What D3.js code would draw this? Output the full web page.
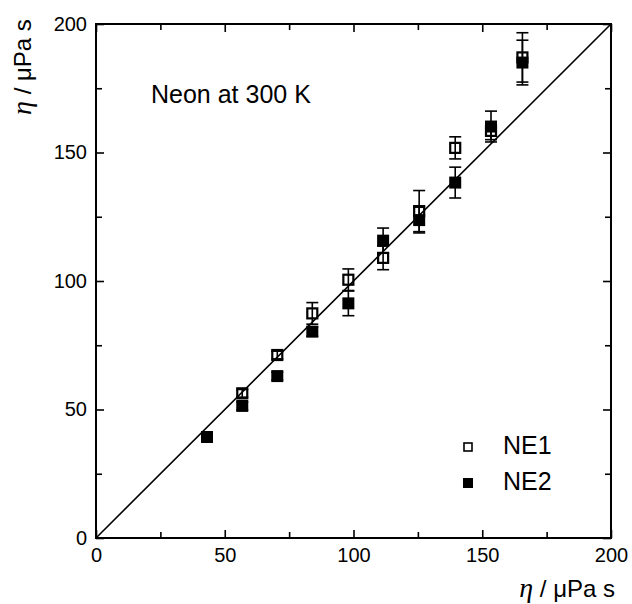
<!DOCTYPE html>
<html>
<head>
<meta charset="utf-8">
<script src="https://cdn.jsdelivr.net/npm/d3@7"></script>
<style>
  body { margin: 0; background: #fff; }
  text { font-family: "Liberation Sans", Arial, sans-serif; fill: #000; }
</style>
</head>
<body>
<div id="chart"></div>
<script>
// data (viscosity in µPa s)
const xNE1 = [56.8, 70.4, 84.0, 98.0, 111.5, 125.5, 139.5, 153.4, 165.6];
const yNE1 = [56.3, 71.2, 87.4, 100.5, 109.0, 127.2, 151.8, 158.4, 187.0];
const eNE1 = [1.5, 1.5, 4.2, 4.2, 4.6, 8.0, 4.3, 3.4, 9.6];

const xNE2 = [43.1, 56.8, 70.4, 84.0, 98.0, 111.5, 125.5, 139.5, 153.4, 165.6];
const yNE2 = [39.3, 51.4, 63.0, 80.3, 91.3, 115.7, 123.7, 138.3, 160.1, 185.0];
const eNE2 = [1.0, 1.5, 1.5, 1.8, 4.8, 4.9, 5.0, 6.0, 6.0, 8.7];

const majorTicks = [0, 50, 100, 150, 200];
const minorTicks = [25, 75, 125, 175];
const domain = [0, 200];

// graph dimensions
const width = 632;
const height = 604;
const pLeft = 96, pTop = 24, pRight = 611, pBottom = 538;

const svg = d3.select("#chart")
    .append("svg")
    .attr("width", width)
    .attr("height", height);

const xScale = d3.scaleLinear().domain(domain).range([pLeft, pRight]);
const yScale = d3.scaleLinear().domain(domain).range([pBottom, pTop]);

// inward ticks on all four sides
function tickAxis(axisFn, scale, size, labels, pad) {
    return axisFn(scale)
        .tickValues(size > 7 ? majorTicks : minorTicks)
        .tickSizeInner(-size)
        .tickSizeOuter(0)
        .tickPadding(pad)
        .tickFormat(labels ? d3.format("d") : "");
}

const axes = [
    { fn: d3.axisBottom, s: xScale, tr: `translate(0,${pBottom})`, lab: true, pad: 10 },
    { fn: d3.axisTop, s: xScale, tr: `translate(0,${pTop})`, lab: false, pad: 10 },
    { fn: d3.axisLeft, s: yScale, tr: `translate(${pLeft},0)`, lab: true, pad: 9 },
    { fn: d3.axisRight, s: yScale, tr: `translate(${pRight},0)`, lab: false, pad: 9 }
];
axes.forEach(a => {
    [8, 6].forEach(size => {
        const g = svg.append("g")
            .attr("transform", a.tr)
            .call(tickAxis(a.fn, a.s, size, a.lab && size > 7, a.pad));
        g.select(".domain").remove();
        g.selectAll("line").attr("stroke", "#000").attr("stroke-width", 1.6);
        g.selectAll("text").attr("font-size", "20px")
            .attr("font-family", "Liberation Sans, Arial, sans-serif");
    });
});

// frame
svg.append("rect")
    .attr("x", pLeft).attr("y", pTop)
    .attr("width", pRight - pLeft).attr("height", pBottom - pTop)
    .attr("fill", "none").attr("stroke", "#000").attr("stroke-width", 2);

// diagonal line
svg.append("line")
    .attr("x1", xScale(0)).attr("y1", yScale(0))
    .attr("x2", xScale(200)).attr("y2", yScale(200))
    .attr("stroke", "#000").attr("stroke-width", 1.6);

// error bars
function errorBars(xs, ys, es) {
    const g = svg.append("g").attr("stroke", "#000").attr("stroke-width", 1.6);
    xs.forEach((x, i) => {
        const cx = xScale(x);
        const y1 = yScale(ys[i] - es[i]), y2 = yScale(ys[i] + es[i]);
        g.append("line").attr("x1", cx).attr("x2", cx).attr("y1", y1).attr("y2", y2);
        g.append("line").attr("x1", cx - 6).attr("x2", cx + 6).attr("y1", y1).attr("y2", y1);
        g.append("line").attr("x1", cx - 6).attr("x2", cx + 6).attr("y1", y2).attr("y2", y2);
    });
}
errorBars(xNE1, yNE1, eNE1);
errorBars(xNE2, yNE2, eNE2);

const sq = 12;
// open squares (NE1)
svg.append("g").selectAll("rect")
    .data(xNE1.map((x, i) => [x, yNE1[i]]))
    .enter().append("rect")
    .attr("x", d => xScale(d[0]) - sq / 2 + 1)
    .attr("y", d => yScale(d[1]) - sq / 2 + 1)
    .attr("width", sq - 2).attr("height", sq - 2)
    .attr("fill", "none").attr("stroke", "#000").attr("stroke-width", 2.2);

// filled squares (NE2)
svg.append("g").selectAll("rect")
    .data(xNE2.map((x, i) => [x, yNE2[i]]))
    .enter().append("rect")
    .attr("x", d => xScale(d[0]) - sq / 2)
    .attr("y", d => yScale(d[1]) - sq / 2)
    .attr("width", sq).attr("height", sq)
    .attr("fill", "#000");

// annotation
svg.append("text")
    .attr("x", 151).attr("y", 103)
    .attr("font-size", "25px")
    .text("Neon at 300 K");

// legend
svg.append("rect").attr("x", 464).attr("y", 443).attr("width", 8).attr("height", 8)
    .attr("fill", "none").attr("stroke", "#000").attr("stroke-width", 1.6);
svg.append("rect").attr("x", 463).attr("y", 478).attr("width", 10).attr("height", 10)
    .attr("fill", "#000");
svg.append("text").attr("x", 503).attr("y", 454).attr("font-size", "25px").text("NE1");
svg.append("text").attr("x", 503).attr("y", 490).attr("font-size", "25px").text("NE2");

// axis titles
function axisTitle(t) {
    t.append("tspan")
        .attr("font-family", "Liberation Serif, Times New Roman, serif")
        .attr("font-style", "italic")
        .attr("font-size", "28px")
        .text("η");
    t.append("tspan").text(" / μPa s");
}
svg.append("text")
    .attr("x", 615).attr("y", 597)
    .attr("text-anchor", "end")
    .attr("font-size", "24px")
    .call(axisTitle);

svg.append("text")
    .attr("transform", "translate(31,67) rotate(-90)")
    .attr("text-anchor", "middle")
    .attr("font-size", "24px")
    .call(axisTitle);
</script>
</body>
</html>
